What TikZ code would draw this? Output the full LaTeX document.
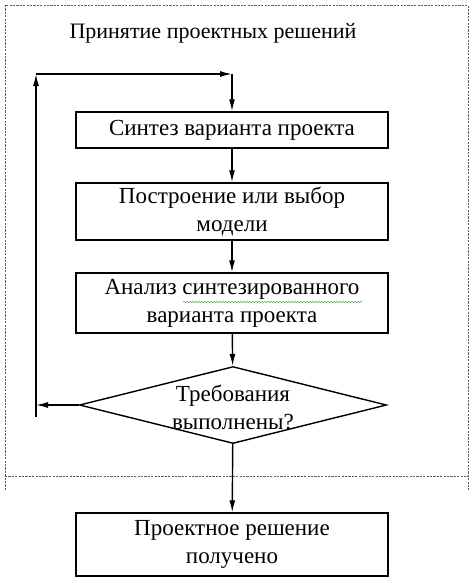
\documentclass[tikz,border=0pt]{standalone}
\usepackage{fontspec}
\setmainfont{Liberation Serif}
\usepackage{tikz}
\usetikzlibrary{calc,arrows.meta,shapes.geometric,decorations.pathmorphing}
\definecolor{frameGray}{RGB}{95,95,95}
\definecolor{spellGreen}{RGB}{90,170,90}
\tikzset{
  stage/.style    = {draw=black, line width=1.4pt, minimum width=312pt, align=center,
                     inner sep=2pt, font=\fontsize{23}{28}\selectfont},
  check/.style    = {draw=black, line width=1.4pt, diamond, inner sep=0pt,
                     minimum width=307pt, minimum height=77pt},
  checktext/.style= {align=center, inner sep=0pt, font=\fontsize{23}{28}\selectfont},
  flow/.style     = {-{Latex[length=12pt,width=6pt]}, line width=1.4pt},
  frame/.style    = {draw=frameGray, line width=1pt, dash pattern=on 2.2pt off 1.2pt},
  heading/.style  = {font=\fontsize{22}{26}\selectfont}
}

\begin{document}
\begin{tikzpicture}[x=1pt, y=-1pt]
    \useasboundingbox (0,0) rectangle (474,579);

    % dashed frame of the decision loop
    \draw[frame] (5,490) -- (5,5) -- (468,5) -- (468,490);
    \draw[frame] (5,476) -- (468,476);
    \node[heading] (title) at (213,33) {Принятие проектных решений};

    % blocks
    \node[stage, minimum height=36pt] (synth) at (232,130) {Синтез варианта проекта};
    \node[stage, minimum height=57pt] (model) at (232,211.5) {Построение или выбор\\модели};
    \node[stage, minimum height=60pt] (anal) at (232,303) {Анализ синтезированного\\варианта проекта};
    \node[check] (req) at (233,405) {};
    \node[checktext] (reqtext) at (233,407) {Требования\\выполнены?};
    \node[stage, minimum height=63pt] (done) at (232,544.5) {Проектное решение\\получено};

    % spell-check underline
    \draw[spellGreen, line width=0.5pt, decorate,
          decoration={snake, amplitude=0.8pt, segment length=3pt}]
      ($(anal.center)+(-49,-1)$) -- ($(anal.center)+(130,-1)$);

    % main flow
    \draw[flow] (synth) -- (model);
    \draw[flow] (model) -- (anal);
    \draw[flow] (anal) -- (req);
    \draw[flow] (req) -- (done);

    % loop back
    \coordinate (back) at (36,405);
    \coordinate (loopbot) at (36,417);
    \coordinate (looptop) at (36,74);
    \coordinate (loopturn) at (232,74);
    \draw[flow] (req.west) -- (back);
    \draw[flow] (loopbot) -- (looptop);
    \draw[flow] (looptop) -- (loopturn);
    \draw[flow] (loopturn) -- (synth.north);
\end{tikzpicture}
\end{document}
